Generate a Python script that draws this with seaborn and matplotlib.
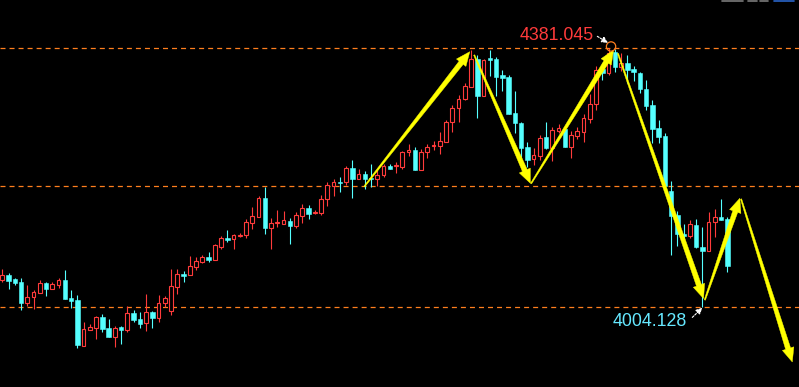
import numpy as np
import pandas as pd
import matplotlib
matplotlib.use("Agg")
import matplotlib.pyplot as plt
import seaborn as sns
from matplotlib.patches import Polygon
from matplotlib.lines import Line2D
from matplotlib.transforms import IdentityTransform

# ---------------- data ----------------
opens = [
    4043.4, 4050.7, 4044.9, 4040.1, 4010.4, 4019.1, 4024.9, 4038.6, 4030.8, 4036.2,
    4043.0, 4016.8, 4013.9, 3947.3, 3971.0, 3973.9, 3989.1, 3973.1, 3960.8, 3975.0,
    3971.0, 3995.8, 3986.6, 3980.4, 3996.8, 3988.5, 4010.4, 3998.7, 4033.7, 4052.2,
    4051.2, 4062.8, 4070.1, 4077.0, 4072.6, 4092.0, 4104.6, 4102.7, 4107.6, 4109.4,
    4126.9, 4135.7, 4162.5, 4119.6, 4126.1, 4125.5, 4129.4, 4122.1, 4137.1, 4147.9,
    4140.6, 4141.5, 4161.0, 4180.8, 4186.2, 4185.8, 4206.2, 4191.0, 4197.9, 4191.6,
    4190.2, 4196.4, 4209.5, 4209.1, 4208.5, 4229.5, 4232.4, 4204.2, 4229.5, 4238.7,
    4239.1, 4245.0, 4273.2, 4293.6, 4306.7, 4325.1, 4365.4, 4312.0, 4366.5, 4365.4,
    4342.1, 4339.2, 4286.8, 4271.8, 4237.2, 4219.7, 4224.8, 4251.4, 4236.5, 4261.0,
    4263.5, 4237.7, 4253.7, 4259.5, 4277.6, 4299.4, 4350.9, 4344.6, 4376.1, 4354.2,
    4359.6, 4350.9, 4345.5, 4321.7, 4298.4, 4265.3, 4253.3, 4173.1, 4138.2, 4110.5,
    4108.0, 4123.6, 4092.0, 4086.1, 4127.5, 4135.2, 4131.9]
highs = [
    4059.0, 4053.2, 4045.9, 4045.9, 4036.2, 4028.9, 4043.4, 4040.5, 4041.0, 4045.9,
    4058.0, 4028.9, 4021.6, 3982.3, 3979.3, 3991.0, 3993.5, 3986.6, 3976.9, 3976.9,
    4005.6, 3999.7, 3996.4, 4023.0, 3998.7, 4021.6, 4020.1, 4059.5, 4059.5, 4056.6,
    4078.4, 4077.0, 4079.9, 4084.2, 4095.9, 4107.6, 4116.3, 4110.5, 4112.4, 4132.3,
    4149.8, 4165.8, 4179.4, 4133.3, 4145.4, 4144.0, 4133.3, 4142.5, 4154.2, 4152.7,
    4145.4, 4167.3, 4185.8, 4190.6, 4193.1, 4209.5, 4218.3, 4204.7, 4202.3, 4212.5,
    4203.7, 4212.5, 4212.5, 4215.4, 4231.8, 4241.2, 4237.7, 4233.9, 4241.2, 4246.4,
    4258.6, 4276.6, 4298.4, 4313.0, 4330.0, 4378.6, 4371.3, 4365.4, 4378.6, 4368.8,
    4349.4, 4342.1, 4318.8, 4273.2, 4244.5, 4235.8, 4254.7, 4274.1, 4267.1, 4270.7,
    4265.9, 4260.5, 4265.9, 4285.3, 4314.4, 4355.2, 4359.2, 4381.045, 4380.0, 4373.7,
    4371.3, 4354.8, 4346.9, 4334.8, 4305.7, 4276.6, 4257.2, 4188.1, 4144.0, 4125.0,
    4130.9, 4132.3, 4121.1, 4143.0, 4146.9, 4161.5, 4135.7]
lows = [
    4041.0, 4030.8, 4036.2, 3999.7, 4005.6, 4001.2, 4024.1, 4020.6, 4029.9, 4031.8,
    4015.5, 4002.2, 3943.9, 3946.6, 3970.6, 3957.5, 3967.7, 3960.4, 3946.3, 3950.2,
    3968.1, 3982.7, 3973.1, 3969.6, 3973.9, 3982.7, 4003.7, 3992.4, 4023.0, 4041.0,
    4050.7, 4058.0, 4067.8, 4070.1, 4071.9, 4089.0, 4098.8, 4088.6, 4105.7, 4105.1,
    4118.2, 4134.8, 4110.0, 4089.0, 4120.2, 4125.0, 4096.3, 4119.6, 4126.9, 4132.8,
    4139.6, 4138.6, 4151.7, 4166.3, 4172.1, 4181.9, 4163.4, 4191.0, 4175.6, 4178.5,
    4180.8, 4194.0, 4204.7, 4198.9, 4204.7, 4224.1, 4203.7, 4203.7, 4220.8, 4232.9,
    4227.5, 4244.5, 4259.5, 4273.2, 4306.0, 4324.6, 4279.0, 4311.5, 4341.1, 4312.0,
    4319.3, 4285.3, 4257.2, 4218.3, 4208.5, 4211.0, 4218.3, 4234.7, 4217.3, 4257.6,
    4237.2, 4220.8, 4248.9, 4245.0, 4271.8, 4291.1, 4334.8, 4342.1, 4345.8, 4348.0,
    4330.0, 4333.4, 4315.9, 4291.1, 4243.5, 4243.5, 4177.5, 4079.9, 4093.0, 4093.0,
    4105.1, 4089.6, 4004.128, 4085.7, 4106.5, 4130.4, 4055.5]
closes = [
    4050.7, 4042.4, 4039.5, 4010.4, 4018.2, 4025.5, 4038.6, 4030.8, 4037.6, 4043.0,
    4016.2, 4013.3, 3948.7, 3971.6, 3974.5, 3989.1, 3972.5, 3960.8, 3973.1, 3971.0,
    3994.9, 3985.2, 3979.3, 3996.4, 3988.5, 4009.5, 4016.8, 4034.7, 4052.2, 4049.3,
    4063.8, 4071.1, 4076.5, 4072.6, 4094.4, 4104.2, 4101.7, 4109.0, 4109.4, 4128.0,
    4136.7, 4162.5, 4119.6, 4126.1, 4128.0, 4130.9, 4122.6, 4137.7, 4147.9, 4140.0,
    4142.1, 4161.0, 4181.4, 4185.8, 4185.2, 4206.2, 4190.6, 4197.4, 4190.6, 4190.2,
    4196.4, 4209.5, 4205.6, 4210.6, 4229.5, 4232.4, 4204.2, 4229.5, 4237.7, 4240.1,
    4245.5, 4273.2, 4293.6, 4306.7, 4325.7, 4365.4, 4312.0, 4364.7, 4364.0, 4339.7,
    4338.2, 4285.7, 4272.6, 4236.2, 4219.0, 4225.6, 4249.9, 4236.1, 4262.0, 4264.5,
    4237.7, 4254.0, 4260.1, 4279.0, 4299.9, 4349.4, 4344.6, 4374.9, 4354.2, 4359.6,
    4349.4, 4345.8, 4321.7, 4297.4, 4263.5, 4252.2, 4181.1, 4137.1, 4110.0, 4107.6,
    4125.0, 4092.0, 4086.1, 4128.0, 4134.8, 4130.9, 4063.8]

levels = [4381.045, 4180.0, 4004.128]
high_label = "4381.045"
low_label = "4004.128"

# zig-zag arrows: (start bar, start price, end bar, end price)
arrow_bars_start = [57.9, 75.5, 84.6, 98.5, 112.4, 118.2]
arrow_px_start = [4179.4, 4371.3, 4184.0, 4373.5, 4014.3, 4161.5]
arrow_bars_end = [74.8, 84.5, 97.8, 112.2, 118.0, 126.4]
arrow_px_end = [4376.1, 4184.3, 4378.6, 4016.5, 4162.5, 3924.0]

# ---------------- style ----------------
RED = "#ff3b3b"
CYAN = "#55ffff"
ORANGE = "#ff7f1e"
YELLOW = "#ffff00"

sns.set_theme(style="dark", rc={
    "axes.facecolor": "black", "figure.facecolor": "black",
    "savefig.facecolor": "black", "axes.grid": False,
    "lines.scale_dashes": False,
})
plt.rcParams["font.family"] = ["Liberation Sans", "DejaVu Sans"]

df = pd.DataFrame({"open": opens, "high": highs, "low": lows, "close": closes})
df["bar"] = np.arange(len(df))
df["up"] = df["close"] >= df["open"]

fig = plt.figure(figsize=(7.99, 3.87), dpi=100)
ax = fig.add_axes([0, 0, 1, 1])
ax.set_facecolor("black")
ax.set_xlim(-0.368, 127.47)
ax.set_ylim(3887.57, 4451.42)
ax.set_axis_off()

# level lines
for lv in levels:
    ax.axhline(lv, color=ORANGE, lw=0.9, dashes=(3.6, 2.9), zorder=1)

# wicks
colors = np.where(df["up"], RED, CYAN)
ax.vlines(df["bar"], df["low"], df["high"], colors=colors, lw=0.8, zorder=2)

# bodies
up = df[df["up"]]
dn = df[~df["up"]]
ax.bar(up["bar"], (up["close"] - up["open"]).clip(lower=0.01), bottom=up["open"],
       width=0.62, facecolor="black", edgecolor=RED, linewidth=0.8, zorder=3)
ax.bar(dn["bar"], (dn["open"] - dn["close"]).clip(lower=0.8), bottom=dn["close"],
       width=0.72, facecolor=CYAN, edgecolor=CYAN, linewidth=0.4, zorder=3)

# tapered arrows in pixel space
def tapered_arrow(x0, y0, x1, y1, w0=1.2, w1=5.2, hw=12.0, hl=14.0):
    p0 = ax.transData.transform((x0, y0))
    p1 = ax.transData.transform((x1, y1))
    d = p1 - p0
    L = np.hypot(*d)
    u = d / L
    n = np.array([-u[1], u[0]])
    base = p1 - u * hl
    pts = [p0 + n * w0 / 2, base + n * w1 / 2, base + n * hw / 2, p1,
           base - n * hw / 2, base - n * w1 / 2, p0 - n * w0 / 2]
    poly = Polygon(pts, closed=True, facecolor=YELLOW, edgecolor=YELLOW,
                   lw=0.3, transform=IdentityTransform(), zorder=6)
    ax.add_patch(poly)

for xs, ys, xe, ye in zip(arrow_bars_start, arrow_px_start, arrow_bars_end, arrow_px_end):
    tapered_arrow(xs, ys, xe, ye)

# high marker circle
sns.scatterplot(x=[97.4], y=[4383.7], ax=ax, s=45, facecolor="none",
                edgecolor=ORANGE, linewidth=0.9, zorder=7, legend=False)

# labels
ax.text(94.6, 4399.0, high_label, color=RED, fontsize=12.8, ha="right",
        va="center", zorder=8)
ax.text(97.7, 3983.0, low_label, color="#66e8ff", fontsize=12.8, ha="left",
        va="center", zorder=8)

arrow_kw = dict(arrowstyle="-|>,head_length=0.3,head_width=0.15",
                color="white", lw=0.8, ls=(0, (1.5, 1.0)),
                shrinkA=0, shrinkB=0)
ax.annotate("", xy=(96.9, 4389.0), xytext=(95.2, 4398.5),
            arrowprops=arrow_kw, zorder=8)
ax.annotate("", xy=(112.0, 4003.0), xytext=(110.4, 3989.0),
            arrowprops=arrow_kw, zorder=8)

# small toolbar remnants at the top-right
for (xa, xb, c) in [(722, 743, "#7a7a7a"), (748, 757, "#7a7a7a"),
                    (760, 768, "#7a7a7a"), (774, 794, "#2a64c8")]:
    fig.add_artist(Line2D([xa / 799, xb / 799], [1 - 0.8 / 387] * 2,
                          transform=fig.transFigure, color=c, lw=1.2))

fig.savefig("out.png", dpi=100, facecolor="black")
